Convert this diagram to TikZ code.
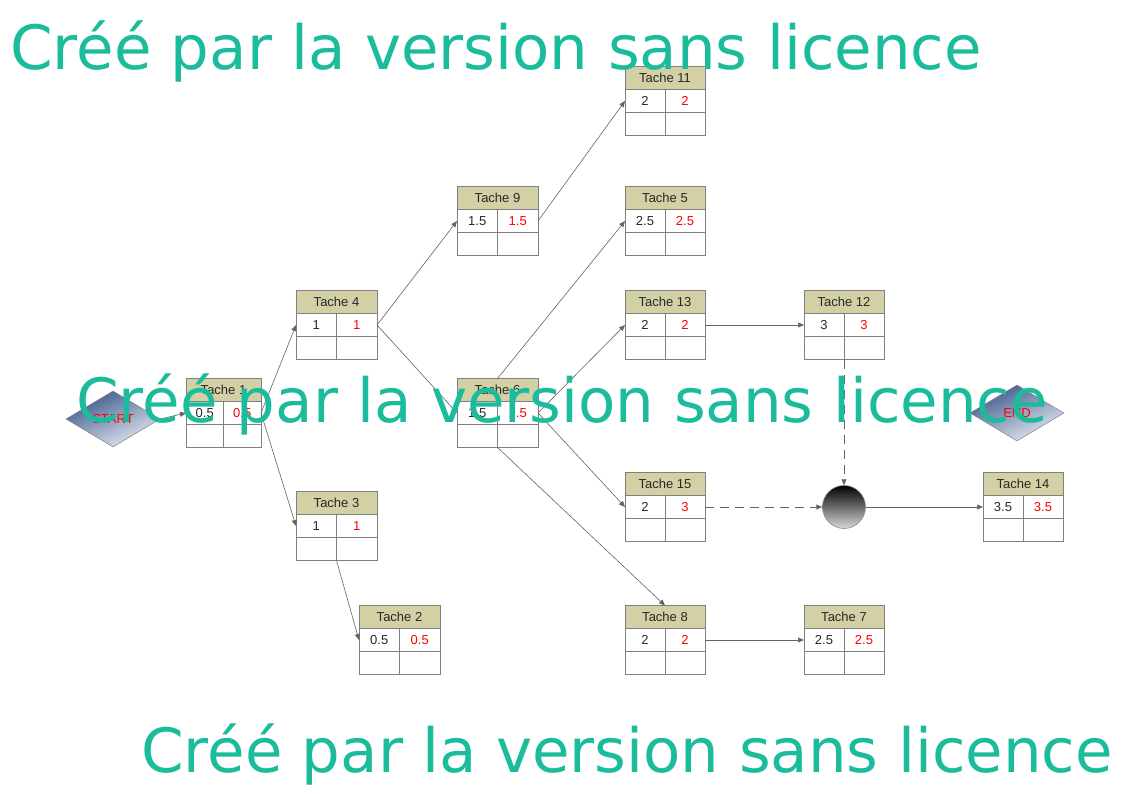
\documentclass[tikz,border=0pt]{standalone}
\usepackage{fontspec}
\setmainfont{Liberation Sans}
\newfontfamily\wmfont{DejaVu Sans}
\usetikzlibrary{shapes.geometric,arrows.meta}
\definecolor{hdrcol}{RGB}{212,208,165}
\definecolor{framecol}{RGB}{128,128,128}
\definecolor{linecol}{RGB}{100,100,100}
\definecolor{txtcol}{RGB}{40,40,40}
\definecolor{wmcol}{RGB}{26,188,156}
\definecolor{dmtop}{RGB}{58,88,138}
\definecolor{dmbot}{RGB}{232,235,242}
\newcommand\taskbox[7]{%
  \node[taskframe, minimum width=#4pt] (#1) at (#2,#3) {};
  \fill[hdrcol] (#1.north west) rectangle ([yshift=-23pt]#1.north east);
  \draw[framecol, line width=0.9pt] (#1.north west) rectangle (#1.south east);
  \draw[framecol, line width=0.9pt] ([yshift=-23pt]#1.north west) -- ([yshift=-23pt]#1.north east);
  \draw[framecol, line width=0.9pt] ([yshift=-46pt]#1.north west) -- ([yshift=-46pt]#1.north east);
  \draw[framecol, line width=0.9pt] ([yshift=-23pt]#1.north) -- (#1.south);
  \node[tasktext] (#1h) at ([yshift=-11.5pt]#1.north) {#5};
  \node[tasktext] (#1a) at ([xshift=-#4pt/4, yshift=-34.5pt]#1.north) {#6};
  \node[tasktext, text=red] (#1b) at ([xshift=#4pt/4, yshift=-34.5pt]#1.north) {#7};
}
\begin{document}
\begin{tikzpicture}[x=1pt,y=-1pt,
  taskframe/.style={rectangle, draw=none, fill=white, minimum height=69pt, inner sep=0pt, outer sep=0pt},
  tasktext/.style={inner sep=0pt, text=txtcol, font=\fontsize{13}{13}\selectfont},
  conn/.style={draw=linecol, line width=0.6pt, -{Triangle[length=6pt,width=5pt]}},
  dconn/.style={conn, dash pattern=on 9pt off 6pt},
  diam/.style={diamond, aspect=1.68, minimum width=94pt, minimum height=56pt, inner sep=0pt, draw=framecol, line width=0.5pt, top color=dmtop, bottom color=dmbot, shading angle=25, text=red, font=\fontsize{13}{13}\selectfont},
  wm/.style={anchor=base west, inner sep=0pt, text=wmcol, font=\wmfont\fontsize{61}{61}\selectfont}
]
\useasboundingbox (0,0) rectangle (1123,794);
\fill[white] (0,0) rectangle (1123,794);

\taskbox{t1}{223.5}{413}{75}{Tache 1}{0.5}{0.5}
\taskbox{t4}{336.5}{325}{81}{Tache 4}{1}{1}
\taskbox{t3}{336.5}{526}{81}{Tache 3}{1}{1}
\taskbox{t2}{399.5}{640}{81}{Tache 2}{0.5}{0.5}
\taskbox{t9}{497.5}{221}{81}{Tache 9}{1.5}{1.5}
\taskbox{t6}{497.5}{413}{81}{Tache 6}{1.5}{1.5}
\taskbox{t11}{665}{101}{80}{Tache 11}{2}{2}
\taskbox{t5}{665}{221}{80}{Tache 5}{2.5}{2.5}
\taskbox{t13}{665}{325}{80}{Tache 13}{2}{2}
\taskbox{t15}{665}{507}{80}{Tache 15}{2}{3}
\taskbox{t8}{665}{640}{80}{Tache 8}{2}{2}
\taskbox{t12}{844}{325}{80}{Tache 12}{3}{3}
\taskbox{t7}{844}{640}{80}{Tache 7}{2.5}{2.5}
\taskbox{t14}{1023}{507}{80}{Tache 14}{3.5}{3.5}

\node[diam] (start) at (113,419) {START};
\node[diam] (end) at (1017,413) {END};
\node[circle, minimum size=43pt, inner sep=0pt, draw=framecol, line width=0.5pt, top color=black, bottom color=white!85!black] (junc) at (844,507) {};

\draw[conn] (start.east) -- (t1.west);
\draw[conn] (t1.east) -- (t4.west);
\draw[conn] (t1.east) -- (t3.west);
\draw[conn] (t3.south) -- (t2.west);
\draw[conn] (t4.east) -- (t9.west);
\draw[conn] (t4.east) -- (t6.west);
\draw[conn] (t9.east) -- (t11.west);
\draw[conn] (t6.north) -- (t5.west);
\draw[conn] (t6.east) -- (t13.west);
\draw[conn] (t6.east) -- (t15.west);
\draw[conn] (t6.south) -- (t8.north);
\draw[conn] (t13.east) -- (t12.west);
\draw[conn] (t8.east) -- (t7.west);
\draw[dconn] (t12.south) -- (junc.north);
\draw[dconn] (t15.east) -- (junc.west);
\draw[conn] (junc.east) -- (t14.west);

\node[wm] (wm1) at (10,70) {Créé par la version sans licence};
\node[wm] (wm2) at (76,422) {Créé par la version sans licence};
\node[wm] (wm3) at (141,772) {Créé par la version sans licence};
\end{tikzpicture}
\end{document}
